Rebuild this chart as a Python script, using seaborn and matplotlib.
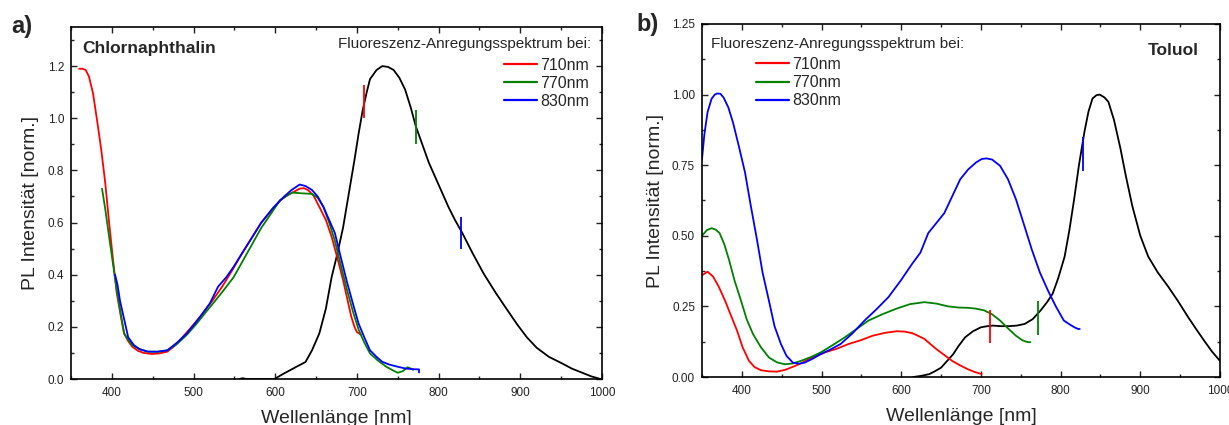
import numpy as np
import pandas as pd
import matplotlib
matplotlib.use("Agg")
import matplotlib.pyplot as plt
from matplotlib.ticker import MultipleLocator
import seaborn as sns

# ---------------- data: panel a) Chlornaphthalin ----------------
a_em_x = [556, 560, 565, 599, 610, 626, 637, 645, 654, 662, 669, 676, 683, 690, 697, 702, 707, 712, 716, 724,
          731, 738, 745, 752, 759, 766, 772, 780, 788, 800, 812, 820, 829, 842, 855, 870, 884, 896, 908,
          920, 935, 951, 963, 975, 987, 998]
a_em_y = [0.0, 0.003, 0.0, 0.0, 0.02, 0.047, 0.065, 0.11, 0.175, 0.27, 0.39, 0.48, 0.58, 0.71, 0.84, 0.94,
          1.03, 1.10, 1.15, 1.185, 1.2, 1.197, 1.185, 1.155, 1.11, 1.04, 0.97, 0.90, 0.83, 0.745, 0.66,
          0.61, 0.56, 0.48, 0.405, 0.33, 0.265, 0.21, 0.16, 0.12, 0.085, 0.06, 0.04, 0.025, 0.01, 0.0]

a_710_x = [360, 364, 368, 372, 377, 382, 387, 392, 396, 401, 406, 411, 415, 420, 425, 432, 439, 449, 458,
           468, 478, 487, 499, 511, 523, 535, 547, 559, 571, 583, 595, 606, 618, 630, 635, 640, 647, 654,
           662, 669, 676, 683, 688, 693, 697, 700, 705]
a_710_y = [1.19, 1.19, 1.185, 1.16, 1.095, 0.99, 0.88, 0.75, 0.62, 0.47, 0.33, 0.24, 0.175, 0.145, 0.124,
           0.108, 0.10, 0.096, 0.098, 0.105, 0.13, 0.162, 0.205, 0.25, 0.30, 0.354, 0.415, 0.48, 0.54, 0.60,
           0.645, 0.686, 0.71, 0.73, 0.732, 0.725, 0.703, 0.66, 0.61, 0.546, 0.465, 0.38, 0.31, 0.24, 0.2,
           0.18, 0.17]

a_770_x = [388, 392, 396, 401, 406, 411, 415, 420, 425, 434, 444, 456, 468, 480, 492, 504, 516, 533, 549,
           566, 583, 595, 606, 614, 621, 633, 645, 652, 659, 666, 673, 680, 688, 695, 702, 709, 716, 726,
           736, 743, 750, 756, 762, 766, 769]
a_770_y = [0.73, 0.65, 0.56, 0.45, 0.34, 0.25, 0.175, 0.15, 0.13, 0.115, 0.105, 0.104, 0.11, 0.135, 0.17,
           0.213, 0.26, 0.325, 0.39, 0.485, 0.58, 0.635, 0.686, 0.703, 0.715, 0.712, 0.71, 0.695, 0.66, 0.60,
           0.53, 0.44, 0.34, 0.26, 0.19, 0.14, 0.098, 0.07, 0.047, 0.035, 0.024, 0.03, 0.045, 0.04, 0.035]

a_830_x = [404, 407, 410, 415, 420, 427, 434, 444, 456, 468, 480, 492, 506, 520, 530, 540, 549, 566, 583,
           597, 611, 620, 630, 637, 645, 652, 659, 666, 673, 680, 688, 695, 702, 709, 716, 724, 731, 740,
           750, 760, 768, 774, 776, 776]
a_830_y = [0.40, 0.36, 0.30, 0.23, 0.16, 0.13, 0.114, 0.105, 0.105, 0.11, 0.14, 0.175, 0.23, 0.29, 0.354,
           0.39, 0.43, 0.515, 0.60, 0.655, 0.70, 0.725, 0.746, 0.74, 0.725, 0.70, 0.66, 0.61, 0.56, 0.47,
           0.37, 0.29, 0.213, 0.16, 0.11, 0.085, 0.066, 0.055, 0.047, 0.04, 0.038, 0.037, 0.037, 0.025]

a_mark_x = [709, 772, 828]
a_mark_lo = [1.00, 0.90, 0.50]
a_mark_hi = [1.127, 1.03, 0.62]

# ---------------- data: panel b) Toluol ----------------
b_em_x = [615, 625, 635, 642, 650, 657, 665, 672, 680, 690, 700, 708, 715, 725, 735, 745, 755, 765, 775,
          783, 790, 797, 805, 811, 817, 823, 830, 835, 840, 845, 849, 855, 860, 867, 875, 882, 890, 900,
          910, 922, 935, 947, 960, 970, 980, 990, 1000]
b_em_y = [0.0, 0.004, 0.01, 0.02, 0.033, 0.055, 0.08, 0.11, 0.14, 0.162, 0.176, 0.18, 0.182, 0.18, 0.18,
          0.182, 0.188, 0.205, 0.236, 0.265, 0.295, 0.35, 0.426, 0.52, 0.63, 0.75, 0.87, 0.94, 0.986, 0.998,
          1.0, 0.99, 0.974, 0.91, 0.81, 0.71, 0.605, 0.50, 0.426, 0.37, 0.32, 0.27, 0.212, 0.17, 0.129,
          0.09, 0.057]

b_710_x = [350, 357, 364, 371, 379, 386, 394, 401, 409, 416, 424, 434, 444, 454, 464, 474, 484, 494, 504,
           519, 534, 549, 564, 579, 594, 604, 614, 621, 629, 636, 644, 654, 664, 674, 684, 692, 699, 701]
b_710_y = [0.36, 0.373, 0.355, 0.32, 0.27, 0.22, 0.164, 0.105, 0.057, 0.035, 0.024, 0.02, 0.019, 0.025,
           0.036, 0.048, 0.063, 0.075, 0.087, 0.10, 0.117, 0.13, 0.146, 0.156, 0.162, 0.161, 0.155, 0.146,
           0.135, 0.118, 0.099, 0.078, 0.057, 0.041, 0.027, 0.018, 0.012, 0.011]

b_770_x = [350, 356, 362, 367, 372, 378, 384, 391, 399, 406, 414, 424, 434, 444, 454, 464, 474, 486, 499,
           514, 529, 544, 559, 577, 594, 611, 629, 644, 659, 672, 684, 694, 704, 714, 724, 734, 744, 752,
           758, 762]
b_770_y = [0.50, 0.52, 0.527, 0.522, 0.51, 0.47, 0.414, 0.34, 0.27, 0.205, 0.152, 0.105, 0.069, 0.052,
           0.045, 0.048, 0.057, 0.07, 0.087, 0.113, 0.14, 0.17, 0.2, 0.223, 0.242, 0.258, 0.265, 0.26, 0.25,
           0.246, 0.245, 0.242, 0.236, 0.222, 0.2, 0.172, 0.146, 0.13, 0.124, 0.123]

b_830_x = [350, 353, 357, 362, 366, 369, 373, 377, 383, 389, 396, 404, 411, 419, 426, 434, 441, 449, 456,
           464, 472, 479, 489, 499, 511, 524, 539, 554, 569, 584, 599, 614, 624, 634, 644, 654, 664, 674,
           684, 694, 701, 707, 714, 724, 734, 744, 754, 764, 774, 784, 794, 804, 812, 818, 822, 824]
b_830_y = [0.771, 0.86, 0.938, 0.985, 1.0, 1.004, 1.003, 0.99, 0.955, 0.90, 0.82, 0.724, 0.61, 0.486,
           0.37, 0.27, 0.18, 0.117, 0.075, 0.051, 0.047, 0.051, 0.065, 0.081, 0.097, 0.117, 0.155, 0.2,
           0.24, 0.283, 0.34, 0.402, 0.44, 0.51, 0.545, 0.58, 0.64, 0.70, 0.735, 0.76, 0.772, 0.774, 0.77,
           0.748, 0.70, 0.629, 0.54, 0.45, 0.37, 0.307, 0.25, 0.2, 0.185, 0.175, 0.17, 0.17]

b_mark_x = [711, 772, 828]
b_mark_lo = [0.119, 0.149, 0.73]
b_mark_hi = [0.236, 0.268, 0.85]

labels = ["710nm", "770nm", "830nm"]
colors = ["#ff0000", "#008000", "#0000ff"]

# ---------------- style ----------------
sns.set_style("ticks")
plt.rcParams["font.family"] = ["Liberation Sans", "DejaVu Sans"]
plt.rcParams.update({
    "xtick.direction": "in", "ytick.direction": "in",
    "xtick.top": True, "ytick.right": True,
    "xtick.major.size": 4.5, "ytick.major.size": 4.5,
    "xtick.minor.size": 2.5, "ytick.minor.size": 2.5,
    "xtick.major.width": 1.0, "ytick.major.width": 1.0,
    "xtick.minor.width": 1.0, "ytick.minor.width": 1.0,
    "axes.linewidth": 1.2,
    "xtick.labelsize": 8.5, "ytick.labelsize": 8.5,
    "xtick.color": "#222222", "ytick.color": "#222222",
    "axes.edgecolor": "black",
})

fig = plt.figure(figsize=(12.29, 4.25), dpi=100)
axA = fig.add_axes([71 / 1229, 1 - 379 / 425, (602 - 71) / 1229, (379 - 27) / 425])
axB = fig.add_axes([702 / 1229, 1 - 377 / 425, (1220 - 702) / 1229, (377 - 24) / 425])


def draw(ax, em_x, em_y, series, mark_x, mark_lo, mark_hi):
    sns.lineplot(x=em_x, y=em_y, ax=ax, color="black", lw=1.3, sort=False, estimator=None)
    for (sx, sy), lab, c in zip(series, labels, colors):
        sns.lineplot(x=sx, y=sy, ax=ax, color=c, lw=1.3, sort=False, estimator=None, label=lab)
    for mx, lo, hi, c in zip(mark_x, mark_lo, mark_hi, colors):
        ax.vlines(mx, lo, hi, color=c, lw=1.3)
    ax.set_xlim(350, 1000)
    ax.xaxis.set_major_locator(MultipleLocator(100))
    ax.xaxis.set_minor_locator(MultipleLocator(50))
    ax.set_xlabel("Wellenlänge [nm]", fontsize=14, labelpad=8)
    ax.set_ylabel("PL Intensität [norm.]", fontsize=14, labelpad=6)
    ax.tick_params(axis="x", which="major", pad=6)
    ax.tick_params(axis="y", which="major", pad=5)


draw(axA, a_em_x, a_em_y, [(a_710_x, a_710_y), (a_770_x, a_770_y), (a_830_x, a_830_y)],
     a_mark_x, a_mark_lo, a_mark_hi)
axA.set_ylim(0, 1.35)
axA.yaxis.set_major_locator(MultipleLocator(0.2))
axA.yaxis.set_minor_locator(MultipleLocator(0.1))
axA.yaxis.set_major_formatter(plt.FormatStrFormatter("%.1f"))

draw(axB, b_em_x, b_em_y, [(b_710_x, b_710_y), (b_770_x, b_770_y), (b_830_x, b_830_y)],
     b_mark_x, b_mark_lo, b_mark_hi)
axB.set_ylim(0, 1.25)
axB.yaxis.set_major_locator(MultipleLocator(0.25))
axB.yaxis.set_minor_locator(MultipleLocator(0.125))
axB.yaxis.set_major_formatter(plt.FormatStrFormatter("%.2f"))

# Panel texts
fig.text(11 / 1229, 1 - 27 / 425, "a)", fontsize=17, fontweight="bold", va="center")
fig.text(636 / 1229, 1 - 25 / 425, "b)", fontsize=17, fontweight="bold", va="center")
axA.text(0.021, 0.94, "Chlornaphthalin", transform=axA.transAxes, fontsize=12.5, fontweight="bold",
         va="center", ha="left")
axB.text(0.959, 0.926, "Toluol", transform=axB.transAxes, fontsize=12.5, fontweight="bold",
         va="center", ha="right")

hdr = "Fluoreszenz-Anregungsspektrum bei:"
axA.text(0.979, 0.951, hdr, transform=axA.transAxes, fontsize=11, va="center", ha="right")
axB.text(0.018, 0.944, hdr, transform=axB.transAxes, fontsize=11, va="center", ha="left")

legA = axA.legend(loc="upper right", bbox_to_anchor=(0.997, 0.945), frameon=False, fontsize=11.5,
                  handlelength=2.05, handletextpad=0.2, labelspacing=0.2, borderpad=0.2)
legB = axB.legend(loc="upper left", bbox_to_anchor=(0.083, 0.938), frameon=False, fontsize=11.5,
                  handlelength=2.05, handletextpad=0.2, labelspacing=0.2, borderpad=0.2)
for leg in (legA, legB):
    for h in leg.get_lines():
        h.set_linewidth(1.6)

fig.savefig("out.png", dpi=100)
